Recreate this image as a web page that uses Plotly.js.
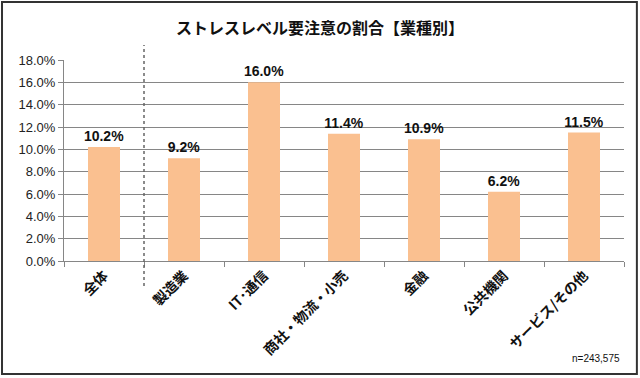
<!DOCTYPE html>
<html><head><meta charset="utf-8">
<script src="https://cdn.plot.ly/plotly-3.0.1.min.js"></script>
<style>html,body{margin:0;padding:0;background:#fff}</style>
</head><body><div id="c" style="width:640px;height:378px"></div>
<script>
const categories = ["全体","製造業","IT･通信","商社・物流・小売","金融","公共機関","サービス/その他"];
const values = [10.2, 9.2, 16.0, 11.4, 10.9, 6.2, 11.5];
const yTicks = [0,2,4,6,8,10,12,14,16,18];
const yTickText = yTicks.map(v => v.toFixed(1) + "%");
const labels = values.map(v => v.toFixed(1) + "%");
const jp = '"Noto Sans CJK JP", sans-serif';

const trace = {
  type: 'bar', x: categories, y: values,
  marker: {color: '#FAC090'}, width: 0.4,
  text: labels, textposition: 'outside', cliponaxis: false, constraintext: 'none',
  textfont: {family: 'Liberation Sans, Arial', size: 14, color: '#111', weight: 'bold'},
  hoverinfo: 'none'
};
const layout = {
  width: 640, height: 378,
  margin: {l: 64, r: 16, t: 60, b: 117},
  paper_bgcolor: '#fff', plot_bgcolor: '#fff',
  showlegend: false,
  title: {text: 'ストレスレベル要注意の割合【業種別】', x: 0.5, xanchor: 'center', y: 0.925, yanchor: 'middle',
          font: {family: jp, size: 16, color: '#111', weight: 'bold'}},
  xaxis: {
    type: 'category', tickangle: -45, tickson: 'boundaries',
    ticks: 'outside', ticklen: 5, tickcolor: '#868686',
    showline: true, linecolor: '#868686', linewidth: 1,
    tickfont: {family: jp, size: 14, color: '#111', weight: 'bold'},
    range: [-0.5, 6.5], fixedrange: true
  },
  yaxis: {
    range: [0, 18], tickvals: yTicks, ticktext: yTickText,
    ticks: 'outside', ticklen: 5, tickcolor: '#868686',
    showline: true, linecolor: '#868686', linewidth: 1,
    showgrid: true, gridcolor: '#868686', gridwidth: 1,
    zeroline: false,
    tickfont: {family: 'Liberation Sans, Arial', size: 13, color: '#222'}
  },
  bargap: 0.6,
  shapes: [
    {type: 'line', xref: 'x', yref: 'paper', x0: 0.5, x1: 0.5, y0: -0.124, y1: 1.075,
     line: {color: '#666', width: 1.5, dash: 'dot'}},
    {type: 'rect', xref: 'paper', yref: 'paper', x0: -0.1107, x1: 1.023, y0: -0.562, y1: 1.289,
     line: {color: '#333', width: 2}, fillcolor: 'rgba(0,0,0,0)'}
  ],
  annotations: [
    {xref: 'paper', yref: 'paper', x: (622-64)/560, y: (261-358)/201, xanchor: 'right', yanchor: 'middle',
     text: 'n=243,575', showarrow: false, font: {family: 'Liberation Sans, Arial', size: 10, color: '#111'}}
  ]
};
Plotly.newPlot('c', [trace], layout, {displayModeBar: false, staticPlot: true});
</script></body></html>
